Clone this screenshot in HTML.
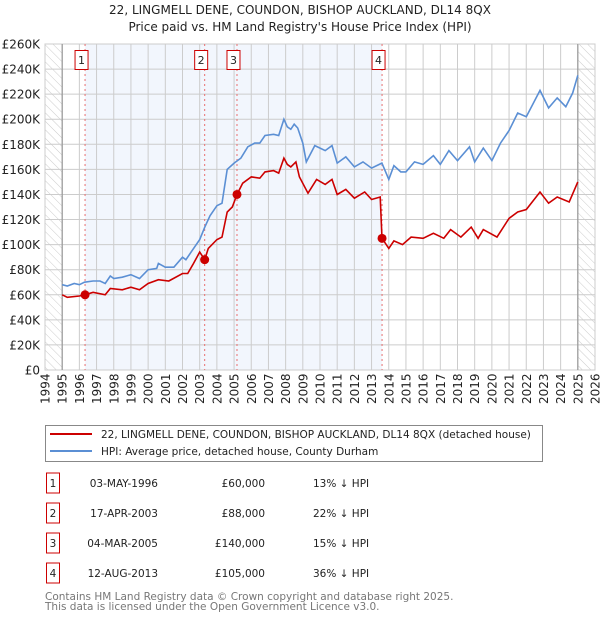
<!DOCTYPE html>
<html><head><meta charset="utf-8">
<style>
body{margin:0;background:#fff;font-family:"DejaVu Sans","Liberation Sans",sans-serif;}
#wrap{position:relative;width:600px;height:620px;overflow:hidden}
</style></head>
<body><div id="wrap">
<svg id="chart" width="600" height="620" xmlns="http://www.w3.org/2000/svg"></svg>
</div>
<script>
const hpiYears=[1995,1995.3,1995.7,1996,1996.3,1996.8,1997.2,1997.5,1997.8,1998,1998.5,1999,1999.5,2000,2000.5,2000.6,2001,2001.5,2002,2002.2,2002.5,2003,2003.3,2003.6,2004,2004.3,2004.6,2005,2005.4,2005.8,2006.2,2006.5,2006.8,2007.3,2007.6,2007.9,2008.1,2008.3,2008.5,2008.7,2009,2009.2,2009.7,2010.3,2010.7,2011,2011.5,2012,2012.5,2013,2013.6,2014,2014.3,2014.7,2015,2015.5,2016,2016.6,2017,2017.5,2018,2018.7,2019,2019.5,2020,2020.5,2021,2021.5,2022,2022.8,2023.3,2023.8,2024.3,2024.7,2025];
const hpiValues=[68,67,69,68,70,71,71,69,75,73,74,76,73,80,81,85,82,82,90,88,94,104,114,123,131,133,160,165,169,178,181,181,187,188,187,200,194,192,196,193,181,166,179,175,179,165,170,162,166,161,165,152,163,158,158,166,164,171,164,175,167,178,166,177,167,181,191,205,202,223,209,217,210,221,235];
const ppYears=[1995,1995.3,1996,1996.33,1996.8,1997.5,1997.8,1998.5,1999,1999.5,2000,2000.6,2001.2,2002,2002.3,2002.6,2003,2003.2,2003.29,2003.5,2004,2004.3,2004.6,2004.9,2005.17,2005.5,2006,2006.5,2006.8,2007.3,2007.6,2007.9,2008.1,2008.3,2008.6,2008.8,2009.3,2009.8,2010.3,2010.7,2011,2011.5,2012,2012.6,2013,2013.5,2013.61,2014,2014.3,2014.8,2015.3,2016,2016.6,2017.2,2017.6,2018.2,2018.8,2019.2,2019.5,2020.3,2021,2021.5,2022,2022.8,2023.3,2023.8,2024.5,2025];
const ppValues=[60,58,59,60,62,60,65,64,66,64,69,72,71,77,77,84,94,90,88,97,104,106,126,130,140,149,154,153,158,159,157,169,164,162,166,154,141,152,148,152,140,144,137,142,136,138,105,97,103,100,106,105,109,105,112,106,114,105,112,106,121,126,128,142,133,138,134,150];
const saleLabels=["1","2","3","4"];
const saleYears=[1996.33,2003.29,2005.17,2013.61];
const salePrices=[60,88,140,105];
const saleDates=["03-MAY-1996","17-APR-2003","04-MAR-2005","12-AUG-2013"];
const salePriceText=["£60,000","£88,000","£140,000","£105,000"];
const saleHpiText=["13% ↓ HPI","22% ↓ HPI","15% ↓ HPI","36% ↓ HPI"];
const yTicks=[0,20,40,60,80,100,120,140,160,180,200,220,240,260];
const xTicks=[1994,1995,1996,1997,1998,1999,2000,2001,2002,2003,2004,2005,2006,2007,2008,2009,2010,2011,2012,2013,2014,2015,2016,2017,2018,2019,2020,2021,2022,2023,2024,2025,2026];

const L=45,R=595,T=44,B=370;
const X=y=>L+(y-1994)/32*(R-L);
const Y=v=>B-v/260*(B-T);
const svg=document.getElementById('chart');
const NS='http://www.w3.org/2000/svg';
function mk(t,a,p){const e=document.createElementNS(NS,t);for(const k in a)e.setAttribute(k,a[k]);(p||svg).appendChild(e);return e;}

let defs=mk('defs',{});
let pat=mk('pattern',{id:'hatch',width:6,height:6,patternUnits:'userSpaceOnUse',patternTransform:'rotate(-45)'},defs);
mk('line',{x1:0,y1:0,x2:0,y2:6,stroke:'#ccc','stroke-width':1},pat);

let t1=mk('text',{x:300,y:14,'text-anchor':'middle','font-size':12,fill:'#222'});t1.textContent='22, LINGMELL DENE, COUNDON, BISHOP AUCKLAND, DL14 8QX';

let t2=mk('text',{x:300,y:31,'text-anchor':'middle','font-size':12,fill:'#222'});t2.textContent="Price paid vs. HM Land Registry's House Price Index (HPI)";


let sh=mk('rect',{x:X(saleYears[0]),y:T,width:X(saleYears[3])-X(saleYears[0]),height:B-T,fill:'#eef3fc',opacity:0.75});

let h1=mk('rect',{x:L,y:T,width:X(1995)-L,height:B-T,fill:'url(#hatch)'});

let h2=mk('rect',{x:X(2025),y:T,width:R-X(2025),height:B-T,fill:'url(#hatch)'});


const grid=mk('g',{stroke:'#ccc','stroke-width':1});

yTicks.forEach(v=>{mk('line',{x1:L,x2:R,y1:Y(v),y2:Y(v)},grid);
 const tx=mk('text',{x:40,y:Y(v)+4.5,'text-anchor':'end','font-size':12,fill:'#222'});tx.textContent='£'+(v?v+'K':'0');
 });
xTicks.forEach(y=>{mk('line',{x1:X(y),x2:X(y),y1:T,y2:B},grid);
 const tx=mk('text',{transform:`translate(${X(y)+4.5},${B+34}) rotate(-90)`,'font-size':12,fill:'#222'});tx.textContent=y;
 });
mk('rect',{x:L,y:T,width:R-L,height:B-T,fill:'none',stroke:'#ccc'});
mk('line',{x1:X(1995),x2:X(1995),y1:T,y2:B,stroke:'#999','stroke-width':1.2});
mk('line',{x1:X(2025),x2:X(2025),y1:T,y2:B,stroke:'#999','stroke-width':1.2});

saleYears.forEach((y,i)=>{
 const l=mk('line',{x1:X(y),x2:X(y),y1:T,y2:B,stroke:'#e87070','stroke-dasharray':'2,3'});
 
 const bx=mk('rect',{x:X(y)-10,y:50.5,width:13,height:19,fill:'#fff',stroke:'#c00'});
 
 const tx=mk('text',{x:X(y)-3.5,y:64,'text-anchor':'middle','font-size':11,fill:'#222'});tx.textContent=saleLabels[i];
});

function path(xs,vs){return xs.map((x,i)=>(i?'L':'M')+X(x).toFixed(1)+','+Y(vs[i]).toFixed(1)).join('');}
let hp=mk('path',{d:path(hpiYears,hpiValues),fill:'none',stroke:'#5b8fd4','stroke-width':1.6});

let pp=mk('path',{d:path(ppYears,ppValues),fill:'none',stroke:'#cc0000','stroke-width':1.6});

saleYears.forEach((y,i)=>{const c=mk('circle',{cx:X(y),cy:Y(salePrices[i]),r:4.5,fill:'#cc0000'});
 });

// legend
let lg=mk('g',{});
mk('rect',{x:45.5,y:425.5,width:497,height:36,fill:'#fff',stroke:'#888'},lg);
mk('line',{x1:50,x2:92,y1:434,y2:434,stroke:'#cc0000','stroke-width':2},lg);
mk('line',{x1:50,x2:92,y1:451,y2:451,stroke:'#5b8fd4','stroke-width':2},lg);
let le1=mk('text',{x:101,y:438,'font-size':10.5,fill:'#222'},lg);le1.textContent='22, LINGMELL DENE, COUNDON, BISHOP AUCKLAND, DL14 8QX (detached house)';

let le2=mk('text',{x:101,y:455,'font-size':10.5,fill:'#222'},lg);le2.textContent='HPI: Average price, detached house, County Durham';


saleLabels.forEach((s,i)=>{const cy=483+i*30;
 const g=mk('g',{'font-size':10.5,fill:'#222'});
 mk('rect',{x:46.5,y:cy-10,width:13,height:20,fill:'#fff',stroke:'#c00'},g);
 const a=mk('text',{x:53,y:cy+4,'text-anchor':'middle'},g);a.textContent=s;
 const b=mk('text',{x:158,y:cy+4,'text-anchor':'end'},g);b.textContent=saleDates[i];
 const c=mk('text',{x:265,y:cy+4,'text-anchor':'end'},g);c.textContent=salePriceText[i];
 const d=mk('text',{x:313,y:cy+4},g);d.textContent=saleHpiText[i];
});
let f1=mk('text',{x:45,y:600,'font-size':10.5,fill:'#777'});f1.textContent='Contains HM Land Registry data © Crown copyright and database right 2025.';

let f2=mk('text',{x:45,y:610,'font-size':10.5,fill:'#777'});f2.textContent='This data is licensed under the Open Government Licence v3.0.';

</script>
</body></html>
